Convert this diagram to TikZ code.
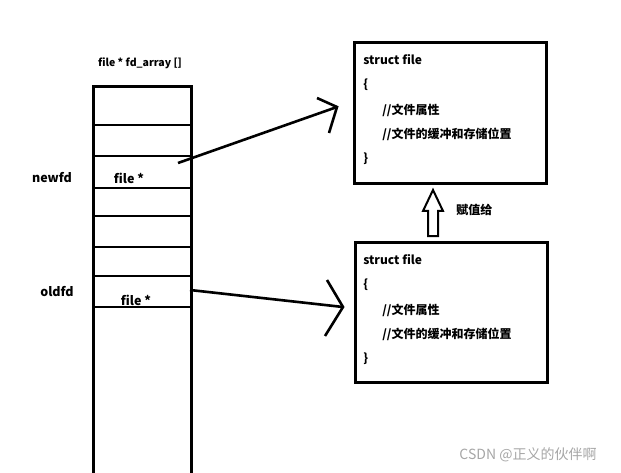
\documentclass[tikz,border=0pt]{standalone}
\usepackage{fontspec}
\setmainfont{Noto Sans CJK SC}
\begin{document}
\begin{tikzpicture}[x=1pt,y=-1pt,line width=2.6pt,
  lbl/.style={font=\fontsize{11.5}{13}\selectfont\bfseries,inner sep=0pt},
  big/.style={lbl,font=\fontsize{12.5}{14}\selectfont\bfseries},
  ln/.style={lbl,anchor=west,font=\fontsize{12}{14}\selectfont\bfseries},
  box/.style={draw,line width=2.8pt}]
\useasboundingbox (0,0) rectangle (621,473);
% array
\node[box,minimum width=98pt,minimum height=400pt,anchor=north west,inner sep=0pt] (arr) at (92,85) {};
\foreach \y in {125,156,188,216,247,276,307}{\draw (92,\y) -- (190,\y);}
\node[lbl,font=\fontsize{10.5}{12}\selectfont\bfseries] (title) at (140,63) {file * fd\_array []};
\node[big] (newfd) at (52,178) {newfd};
\node[big] (oldfd) at (57,292) {oldfd};
\node[big] (f1) at (129,178) {file *};
\node[big] (f2) at (136,300) {file *};
% struct boxes
\node[box,minimum width=192pt,minimum height=141pt,anchor=north west,inner sep=0pt] (s1) at (353,41) {};
\node[box,minimum width=192pt,minimum height=140pt,anchor=north west,inner sep=0pt] (s2) at (354,241) {};
\foreach \n/\dy in {s1/0,s2/200}{
  \node[ln] (\n a) at (362,60+\dy) {struct file};
  \node[ln] (\n b) at (362,85+\dy) {\{};
  \node[ln] (\n c) at (381,110+\dy) {//文件属性};
  \node[ln] (\n d) at (381,134+\dy) {//文件的缓冲和存储位置};
  \node[ln] (\n e) at (362,159+\dy) {\}};
}
% arrows
\coordinate (t1) at (337,107);
\coordinate (t2) at (343,307);
\draw (178,163) -- (t1);
\draw (317,98) -- (t1) -- (329,133);
\draw (190,290) -- (t2);
\draw (327,280) -- (t2) -- (325,336);
% hollow up arrow
\draw[line width=2pt] (428,236) -- (428,211) -- (423,211) -- (433,190) -- (443,211) -- (438,211) -- (438,236) -- cycle;
\node[ln] (assign) at (455,210) {赋值给};
\node[font=\fontsize{14}{16}\selectfont,text=gray!70,inner sep=0pt] (wm) at (528,455) {CSDN @正义的伙伴啊};
\end{tikzpicture}
\end{document}
